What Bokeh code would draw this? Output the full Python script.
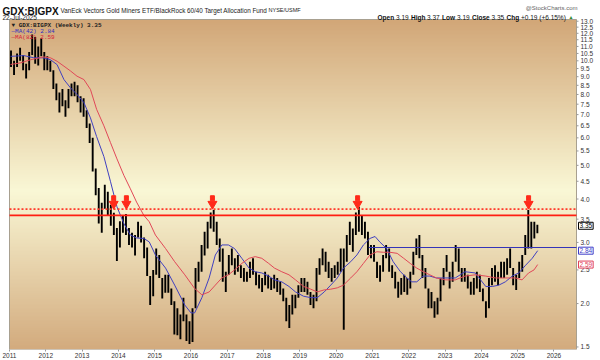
import math
import numpy as np
from bokeh.plotting import figure
from bokeh.models import Range1d, FixedTicker, PrintfTickFormatter, Label
from bokeh.core.properties import value
from bokeh.embed import file_html
from bokeh.resources import INLINE

# ---------------- data (monthly high / low of the weekly ratio GDX:BIGPX) ----------------
bar_high = [
    10.7, 10.0, 10.5, 10.9, 10.4, 9.8, 10.6, 11.9, 11.7, 11.0, 11.6, 10.6,      # 2011
    10.3, 10.0, 9.4, 8.6, 8.1, 8.3, 7.7, 8.3, 8.6, 8.7, 8.5, 7.9,               # 2012
    7.8, 7.2, 6.6, 6.0, 4.9, 4.3, 3.9, 4.4, 4.2, 3.85, 3.65, 3.3,               # 2013
    3.45, 3.6, 3.62, 3.3, 3.2, 3.15, 3.44, 3.35, 3.1, 2.9, 2.4, 2.5,            # 2014
    2.88, 2.76, 2.37, 2.42, 2.42, 2.21, 2.03, 1.94, 1.86, 2.08, 1.86, 1.78,     # 2015
    1.94, 2.53, 2.64, 2.95, 3.22, 3.44, 3.66, 3.72, 3.44, 3.08, 2.88, 2.47,     # 2016
    2.76, 2.88, 2.7, 2.76, 2.58, 2.53, 2.47, 2.64, 2.7, 2.47, 2.42, 2.37,       # 2017
    2.47, 2.42, 2.37, 2.42, 2.37, 2.31, 2.21, 2.08, 1.98, 2.12, 2.12, 2.26,     # 2018
    2.37, 2.37, 2.31, 2.16, 2.12, 2.53, 2.7, 2.88, 2.82, 2.64, 2.53, 2.58,      # 2019
    2.64, 2.88, 2.88, 3.15, 3.44, 3.29, 3.66, 3.8, 3.59, 3.44, 3.22, 2.95,      # 2020
    2.95, 2.64, 2.58, 2.76, 2.95, 2.88, 2.58, 2.47, 2.31, 2.37, 2.42, 2.37,     # 2021
    2.47, 2.82, 3.08, 3.15, 2.76, 2.53, 2.21, 2.16, 2.03, 2.08, 2.37, 2.53,     # 2022
    2.76, 2.47, 2.64, 2.95, 2.88, 2.53, 2.53, 2.42, 2.31, 2.37, 2.47, 2.42,     # 2023
    2.21, 2.03, 2.37, 2.53, 2.58, 2.47, 2.64, 2.64, 2.7, 2.88, 2.53, 2.42,      # 2024
    2.64, 2.76, 3.15, 3.72, 3.44, 3.44, 3.37,                                   # 2025
]
bar_low = [
    9.6, 9.1, 9.6, 10.0, 9.4, 8.9, 9.4, 10.4, 9.8, 9.7, 10.3, 9.4,              # 2011
    9.4, 9.3, 8.3, 7.7, 7.1, 7.4, 6.9, 7.3, 7.9, 7.9, 7.6, 7.1,                 # 2012
    6.9, 6.4, 5.8, 4.8, 4.1, 3.4, 3.2, 3.75, 3.6, 3.35, 3.15, 2.65,             # 2013
    2.9, 3.2, 3.15, 2.95, 2.9, 2.75, 3.1, 3.0, 2.7, 2.4, 1.98, 2.1,             # 2014
    2.42, 2.37, 2.07, 2.15, 2.15, 1.98, 1.63, 1.62, 1.58, 1.78, 1.56, 1.53,     # 2015
    1.55, 1.94, 2.31, 2.47, 2.75, 2.88, 3.29, 3.22, 2.95, 2.64, 2.31, 2.16,     # 2016
    2.42, 2.58, 2.42, 2.47, 2.37, 2.31, 2.31, 2.37, 2.42, 2.26, 2.21, 2.16,     # 2017
    2.26, 2.21, 2.19, 2.21, 2.16, 2.12, 2.03, 1.78, 1.70, 1.86, 1.94, 2.08,     # 2018
    2.16, 2.16, 2.12, 1.98, 1.94, 2.03, 2.42, 2.58, 2.47, 2.37, 2.31, 2.37,     # 2019
    2.42, 2.47, 1.68, 2.64, 2.95, 2.82, 3.15, 3.22, 3.15, 3.08, 2.76, 2.7,      # 2020
    2.64, 2.37, 2.31, 2.47, 2.7, 2.47, 2.37, 2.21, 2.08, 2.12, 2.16, 2.12,      # 2021
    2.21, 2.42, 2.76, 2.7, 2.37, 2.21, 1.94, 1.94, 1.82, 1.86, 2.03, 2.26,      # 2022
    2.47, 2.21, 2.31, 2.64, 2.47, 2.31, 2.31, 2.21, 2.12, 2.12, 2.21, 2.16,     # 2023
    2.03, 1.82, 1.94, 2.26, 2.31, 2.26, 2.37, 2.37, 2.42, 2.53, 2.26, 2.19,     # 2024
    2.37, 2.47, 2.76, 2.88, 2.88, 3.08, 3.19,                                   # 2025
]
first_year = 2011

ma42_x = [2011.03, 2011.4, 2011.67, 2011.94, 2012.13, 2012.31, 2012.5, 2012.68, 2012.86, 2013.05,
          2013.23, 2013.4, 2013.6, 2013.78, 2013.96, 2014.15, 2014.33, 2014.5, 2014.7, 2014.85,
          2015.02, 2015.3, 2015.55, 2015.83, 2016.0, 2016.1, 2016.3, 2016.5, 2016.67, 2016.85,
          2017.03, 2017.2, 2017.4, 2017.6, 2017.77, 2017.95, 2018.14, 2018.3, 2018.5, 2018.7,
          2018.88, 2019.1, 2019.3, 2019.48, 2019.67, 2019.85, 2020.03, 2020.2, 2020.4, 2020.57,
          2020.75, 2020.93, 2021.07, 2021.2, 2021.39, 2021.57, 2021.77, 2021.95, 2022.08, 2022.22,
          2022.4, 2022.58, 2022.76, 2023.02, 2023.28, 2023.55, 2023.83, 2024.12, 2024.3, 2024.48,
          2024.66, 2024.85, 2025.03, 2025.22, 2025.4, 2025.55]
ma42_y = [10.30, 10.35, 10.2, 10.2, 10.07, 9.75, 8.83, 8.36, 8.0, 7.58,
          6.85, 6.05, 5.3, 4.5, 3.8, 3.4, 3.15, 3.09, 3.08, 3.01,
          2.76, 2.53, 2.26, 1.98, 1.88, 1.88, 2.08, 2.37, 2.76, 2.95,
          2.95, 2.88, 2.70, 2.53, 2.47, 2.45, 2.40, 2.34, 2.31, 2.24,
          2.16, 2.10, 2.08, 2.08, 2.16, 2.26, 2.37, 2.53, 2.64, 2.76,
          2.95, 3.08, 3.12, 3.01, 2.88, 2.64, 2.47, 2.37, 2.31, 2.31,
          2.40, 2.40, 2.37, 2.37, 2.37, 2.47, 2.45, 2.24, 2.24, 2.26,
          2.31, 2.40, 2.45, 2.58, 2.70, 2.84]

ma82_x = [2011.03, 2011.3, 2011.58, 2011.94, 2012.13, 2012.31, 2012.5, 2012.68, 2012.86, 2013.05,
          2013.23, 2013.4, 2013.6, 2013.78, 2013.96, 2014.15, 2014.33, 2014.5, 2014.7, 2014.85,
          2015.02, 2015.3, 2015.55, 2015.83, 2016.1, 2016.3, 2016.5, 2016.67, 2016.85, 2017.03,
          2017.2, 2017.4, 2017.6, 2017.77, 2017.95, 2018.14, 2018.3, 2018.5, 2018.7, 2018.88,
          2019.1, 2019.3, 2019.48, 2019.67, 2019.85, 2020.03, 2020.2, 2020.4, 2020.57, 2020.75,
          2020.93, 2021.12, 2021.3, 2021.48, 2021.68, 2021.86, 2022.04, 2022.22, 2022.4, 2022.58,
          2022.76, 2023.02, 2023.28, 2023.55, 2023.83, 2024.12, 2024.39, 2024.66, 2024.94, 2025.12,
          2025.3, 2025.45, 2025.55]
ma82_y = [9.76, 9.86, 10.07, 10.26, 10.2, 9.97, 9.65, 9.35, 9.03, 8.83,
          8.27, 7.25, 6.50, 5.82, 5.22, 4.68, 4.28, 3.92, 3.59, 3.44,
          3.15, 2.88, 2.64, 2.42, 2.21, 2.12, 2.16, 2.26, 2.37, 2.42,
          2.50, 2.61, 2.70, 2.73, 2.70, 2.61, 2.53, 2.47, 2.42, 2.34,
          2.24, 2.20, 2.16, 2.19, 2.20, 2.22, 2.26, 2.37, 2.47, 2.61,
          2.76, 2.82, 2.81, 2.81, 2.79, 2.70, 2.61, 2.53, 2.47, 2.42,
          2.37, 2.34, 2.34, 2.40, 2.42, 2.40, 2.37, 2.37, 2.37, 2.34,
          2.45, 2.50, 2.59]

resistance_level = 3.59       # solid red line
breakout_level = 3.74         # dotted red line
neckline_level = 2.90         # blue horizontal line
neckline_start = 2020.9
arrow_x = [2013.87, 2014.22, 2016.59, 2020.59, 2025.30]   # red down arrows over the peaks

y_ticks = [1.5, 2.0, 2.5, 3.0, 3.5, 4.0, 4.5, 5.0, 5.5, 6.0, 6.5, 7.0, 7.5, 8.0, 8.5,
           9.0, 9.5, 10.0, 10.5, 11.0, 11.5, 12.0, 12.5, 13.0]
x_ticks = [2011, 2012, 2013, 2014, 2015, 2016, 2017, 2018, 2019, 2020, 2021, 2022, 2023,
           2024, 2025, 2026]

last_close, ma42_last, ma82_last = 3.35, 2.84, 2.59

# ---------------- layout ----------------
FONT = "Liberation Sans"
MONO = "Liberation Mono"
W, H = 600, 360
BOTTOM = 11                    # bottom (year) axis strip
FW, FH = W, H - BOTTOM         # frame = whole canvas except the bottom axis
plot_left, plot_w = 9, 567     # price panel inside the frame (px)
top_pad = 19                   # header strip above the price panel (px)
plot_h = FH - top_pad
x_start, x_end = 2011.0, 2026.62
y_lo, y_hi = 1.475, 13.15

pxyr = plot_w / (x_end - x_start)
x_frame_start = x_start - plot_left / pxyr
x_frame_end = x_end + (FW - plot_left - plot_w) / pxyr
pxln = plot_h / math.log(y_hi / y_lo)
y_frame_top = y_hi * math.exp(top_pad / pxln)

p = figure(width=W, height=H,
           x_range=Range1d(x_frame_start, x_frame_end), y_range=Range1d(y_lo, y_frame_top),
           y_axis_type="log", y_axis_location=None,
           output_backend="svg", toolbar_location=None,
           min_border_left=0, min_border_top=0, min_border_bottom=BOTTOM, min_border_right=0)
p.border_fill_color = "white"
p.background_fill_color = "white"
p.outline_line_color = None
p.xgrid.visible = False
p.ygrid.visible = False

# background gradient of the price panel (tan - pale yellow - tan)
n = 240
t = np.linspace(0.0, 1.0, n)  # 0 = bottom, 1 = top
bot_c = np.array([211, 171, 126], float)
mid_c = np.array([250, 248, 214], float)
top_c = np.array([210, 167, 120], float)
mid_t = 0.48
rgb = np.where((t < mid_t)[:, None],
               bot_c + (mid_c - bot_c) * (t / mid_t)[:, None],
               mid_c + (top_c - mid_c) * ((t - mid_t) / (1 - mid_t))[:, None])
img = np.empty((n, 1), dtype=np.uint32)
view = img.view(dtype=np.uint8).reshape((n, 1, 4))
view[:, 0, 0] = rgb[:, 0].astype(np.uint8)
view[:, 0, 1] = rgb[:, 1].astype(np.uint8)
view[:, 0, 2] = rgb[:, 2].astype(np.uint8)
view[:, 0, 3] = 255
p.image_rgba(image=[img], x=x_start, y=y_lo, dw=x_end - x_start, dh=y_hi - y_lo, level="image")
p.quad(left=[x_start], right=[x_end], bottom=[y_lo], top=[y_hi], fill_color=None,
       line_color="#a8a090", line_width=1)

# price bars
bar_x = [first_year + (i + 0.5) / 12 for i in range(len(bar_high))]
p.segment(x0=bar_x, y0=bar_low, x1=bar_x, y1=bar_high, line_color="black", line_width=1.9)

# moving averages
p.line(ma42_x, ma42_y, line_color="#4040c0", line_width=1)
p.line(ma82_x, ma82_y, line_color="#e04858", line_width=1)

# horizontal levels
p.segment(x0=[x_start], x1=[x_end], y0=[resistance_level], y1=[resistance_level],
          line_color="#ff1e12", line_width=1.7)
p.segment(x0=[x_start], x1=[x_end], y0=[breakout_level], y1=[breakout_level],
          line_color="#ff3a2a", line_width=1.6, line_dash="2 2")
p.segment(x0=[neckline_start], x1=[x_end], y0=[neckline_level], y1=[neckline_level],
          line_color="#3434b8", line_width=1.1)

# red arrows
na = len(arrow_x)
p.scatter(arrow_x, [breakout_level * 1.035] * na, marker="inverted_triangle", size=9,
          fill_color="#ff2a1a", line_color="#ff2a1a")
p.rect(arrow_x, [breakout_level * 1.075] * na, width=4, height=5, width_units="screen",
       height_units="screen", fill_color="#ff2a1a", line_color="#ff2a1a")

# right price scale (ticks + labels on the log scale)
nt = len(y_ticks)
p.ray(x=[x_end] * nt, y=y_ticks, length=2, length_units="screen", angle=0,
      line_color="#999999", line_width=1)
p.text(x=[x_end] * nt, y=y_ticks, text=[f"{v:.1f}" for v in y_ticks], x_offset=4,
       text_align="left", text_baseline="middle", text_font=value(FONT),
       text_font_size="6.5px", text_color="#333333")

# bottom axis (years)
xa = p.xaxis[0]
xa.ticker = FixedTicker(ticks=x_ticks)
xa.formatter = PrintfTickFormatter(format="%d")
xa.major_label_text_font = FONT
xa.major_label_text_font_size = "6.5px"
xa.major_label_text_color = "#333333"
xa.axis_line_color = None
xa.major_tick_line_color = "#999999"
xa.major_tick_in = 0
xa.major_tick_out = 2
xa.minor_tick_line_color = None
xa.major_label_standoff = 1

# texts (screen coordinates measured from the frame bottom)
def lab(x, y_from_top, text, size, color="#222222", style="normal", font=FONT, align="left"):
    p.add_layout(Label(x=x, y=FH - y_from_top, x_units="screen", y_units="screen", text=text,
                       text_font=font, text_font_size=size, text_color=color,
                       text_font_style=style, text_align=align, text_baseline="alphabetic"))

lab(2, 10.5, "GDX:BIGPX", "10px", "#111111", "bold")
lab(60, 9.5, "VanEck Vectors Gold Miners ETF/BlackRock 60/40 Target Allocation Fund", "6.3px")
lab(268, 9.5, "NYSE/USMF", "5.5px")
lab(577, 7, "@StockCharts.com", "6px", "#666666", align="right")
lab(2, 16.5, "22-Jul-2025", "6.5px")

ohlc = [("Open", "bold", 0), ("3.19", "normal", 18.5), ("High", "bold", 33.5), ("3.37", "normal", 49.5),
        ("Low", "bold", 64.5), ("3.19", "normal", 79.5), ("Close", "bold", 94.5), ("3.35", "normal", 114),
        ("Chg", "bold", 129), ("+0.19 (+6.15%)", "normal", 143.5)]
x0 = 377
for txt, st, off in ohlc:
    lab(x0 + off, 16.5, txt, "6.5px", "#111111", st)
lab(x0 + 191, 16.5, "\u25b2", "5px", "#2e8b2e")

# in-panel legend
lab(plot_left + 2, 24.5, "\u25bc GDX:BIGPX (Weekly) 3.35", "6px", "#222222", "bold", MONO)
lab(plot_left + 2, 30.5, "\u2014MA(42) 2.84", "6px", "#3030c0", "normal", MONO)
lab(plot_left + 2, 36.5, "\u2014MA(82) 2.59", "6px", "#d82038", "normal", MONO)

# boxed last values on the price scale
for val, col in ((last_close, "#000000"), (ma42_last, "#3c3cc8"), (ma82_last, "#e0405a")):
    p.add_layout(Label(x=plot_left + plot_w + 2, y=val, x_units="screen", y_units="data",
                       text=f"{val:.2f}", text_font=FONT, text_font_size="6.5px", text_color=col,
                       text_baseline="middle", text_align="left",
                       border_line_color=col, border_line_width=1,
                       background_fill_color="white", padding=1))

open("out.html", "w").write(file_html(p, INLINE))
